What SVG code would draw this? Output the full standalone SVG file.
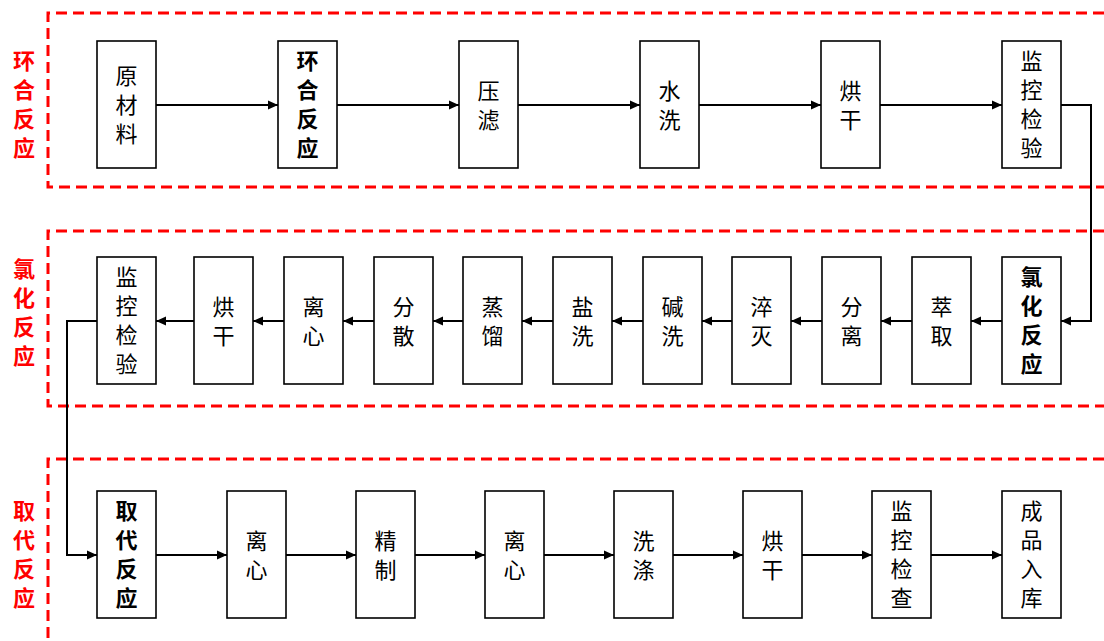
<svg xmlns="http://www.w3.org/2000/svg" width="1104" height="641" viewBox="0 0 1104 641">
  <defs>
    <marker id="arrow" viewBox="0 0 10 10" refX="10" refY="5" markerWidth="10" markerHeight="10" markerUnits="userSpaceOnUse" orient="auto">
      <path d="M0,0.5 L10,5 L0,9.5 Z" fill="#000"/>
    </marker>
    <style>
      .zone { fill: none; stroke: #ff0000; stroke-width: 3; stroke-dasharray: 11 6; }
      .zlabel { font-family: "Noto Sans CJK SC", "Noto Sans", sans-serif; font-size: 22px; font-weight: bold; fill: #ff0000; text-anchor: middle; }
      .box { fill: #fff; stroke: #000; stroke-width: 1.6; }
      .txt { font-family: "Noto Sans CJK SC", "Noto Sans", sans-serif; font-size: 22px; fill: #000; text-anchor: middle; }
      .bold { font-weight: bold; }
      .link { fill: none; stroke: #000; stroke-width: 2; marker-end: url(#arrow); }
    </style>
  </defs>
  <rect width="1104" height="641" fill="#fff"/>

  <!-- stage frames -->
  <g id="zones">
    <path class="zone" d="M1104,13 H48 V187 H1104"/>
    <path class="zone" d="M1104,231 H48 V406 H1104"/>
    <path class="zone" d="M1104,459 H48 V641"/>
  </g>

  <!-- stage titles -->
  <g id="stage-labels">
    <text class="zlabel" x="24"><tspan x="24" y="69">环</tspan><tspan x="24" y="98">合</tspan><tspan x="24" y="127">反</tspan><tspan x="24" y="156">应</tspan></text>
    <text class="zlabel" x="24"><tspan x="24" y="277">氯</tspan><tspan x="24" y="306">化</tspan><tspan x="24" y="335">反</tspan><tspan x="24" y="364">应</tspan></text>
    <text class="zlabel" x="24"><tspan x="24" y="519">取</tspan><tspan x="24" y="548">代</tspan><tspan x="24" y="577">反</tspan><tspan x="24" y="606">应</tspan></text>
  </g>

  <!-- connectors -->
  <g id="connectors">
    <!-- ring-closure stage -->
    <path class="link" d="M156,105 H278"/>
    <path class="link" d="M337,105 H459"/>
    <path class="link" d="M518,105 H640"/>
    <path class="link" d="M699,105 H821"/>
    <path class="link" d="M880,105 H1002"/>
    <path class="link" d="M1061,105 H1091 V321 H1061"/>
    <!-- chlorination stage (right to left) -->
    <path class="link" d="M1002,321 H971"/>
    <path class="link" d="M912,321 H881"/>
    <path class="link" d="M822,321 H791"/>
    <path class="link" d="M732,321 H702"/>
    <path class="link" d="M643,321 H612"/>
    <path class="link" d="M553,321 H522"/>
    <path class="link" d="M463,321 H433"/>
    <path class="link" d="M374,321 H343"/>
    <path class="link" d="M284,321 H253"/>
    <path class="link" d="M194,321 H156"/>
    <path class="link" d="M97,321 H67 V555 H97"/>
    <!-- substitution stage -->
    <path class="link" d="M156,555 H227"/>
    <path class="link" d="M286,555 H356"/>
    <path class="link" d="M415,555 H485"/>
    <path class="link" d="M544,555 H614"/>
    <path class="link" d="M673,555 H743"/>
    <path class="link" d="M802,555 H872"/>
    <path class="link" d="M931,555 H1002"/>
  </g>

  <!-- ring-closure stage nodes -->
  <g id="n-raw"><rect class="box" x="97" y="41" width="59" height="127"/><text class="txt"><tspan x="126.5" y="84">原</tspan><tspan x="126.5" y="113">材</tspan><tspan x="126.5" y="142">料</tspan></text></g>
  <g id="n-ring"><rect class="box" x="278" y="41" width="59" height="127"/><text class="txt bold"><tspan x="307.5" y="69">环</tspan><tspan x="307.5" y="98">合</tspan><tspan x="307.5" y="127">反</tspan><tspan x="307.5" y="156">应</tspan></text></g>
  <g id="n-press"><rect class="box" x="459" y="41" width="59" height="127"/><text class="txt"><tspan x="488.5" y="99">压</tspan><tspan x="488.5" y="128">滤</tspan></text></g>
  <g id="n-wash1"><rect class="box" x="640" y="41" width="59" height="127"/><text class="txt"><tspan x="669.5" y="99">水</tspan><tspan x="669.5" y="128">洗</tspan></text></g>
  <g id="n-dry1"><rect class="box" x="821" y="41" width="59" height="127"/><text class="txt"><tspan x="850.5" y="99">烘</tspan><tspan x="850.5" y="128">干</tspan></text></g>
  <g id="n-qc1"><rect class="box" x="1002" y="41" width="59" height="127"/><text class="txt"><tspan x="1031.5" y="69">监</tspan><tspan x="1031.5" y="98">控</tspan><tspan x="1031.5" y="127">检</tspan><tspan x="1031.5" y="156">验</tspan></text></g>

  <!-- chlorination stage nodes -->
  <g id="n-chlor"><rect class="box" x="1002" y="257" width="59" height="127"/><text class="txt bold"><tspan x="1031.5" y="285">氯</tspan><tspan x="1031.5" y="314">化</tspan><tspan x="1031.5" y="343">反</tspan><tspan x="1031.5" y="372">应</tspan></text></g>
  <g id="n-extract"><rect class="box" x="912" y="257" width="59" height="127"/><text class="txt"><tspan x="941.5" y="315">萃</tspan><tspan x="941.5" y="344">取</tspan></text></g>
  <g id="n-sep"><rect class="box" x="822" y="257" width="59" height="127"/><text class="txt"><tspan x="851.5" y="315">分</tspan><tspan x="851.5" y="344">离</tspan></text></g>
  <g id="n-quench"><rect class="box" x="732" y="257" width="59" height="127"/><text class="txt"><tspan x="761.5" y="315">淬</tspan><tspan x="761.5" y="344">灭</tspan></text></g>
  <g id="n-alkali"><rect class="box" x="643" y="257" width="59" height="127"/><text class="txt"><tspan x="672.5" y="315">碱</tspan><tspan x="672.5" y="344">洗</tspan></text></g>
  <g id="n-brine"><rect class="box" x="553" y="257" width="59" height="127"/><text class="txt"><tspan x="582.5" y="315">盐</tspan><tspan x="582.5" y="344">洗</tspan></text></g>
  <g id="n-distil"><rect class="box" x="463" y="257" width="59" height="127"/><text class="txt"><tspan x="492.5" y="315">蒸</tspan><tspan x="492.5" y="344">馏</tspan></text></g>
  <g id="n-disperse"><rect class="box" x="374" y="257" width="59" height="127"/><text class="txt"><tspan x="403.5" y="315">分</tspan><tspan x="403.5" y="344">散</tspan></text></g>
  <g id="n-cent1"><rect class="box" x="284" y="257" width="59" height="127"/><text class="txt"><tspan x="313.5" y="315">离</tspan><tspan x="313.5" y="344">心</tspan></text></g>
  <g id="n-dry2"><rect class="box" x="194" y="257" width="59" height="127"/><text class="txt"><tspan x="223.5" y="315">烘</tspan><tspan x="223.5" y="344">干</tspan></text></g>
  <g id="n-qc2"><rect class="box" x="97" y="257" width="59" height="127"/><text class="txt"><tspan x="126.5" y="285">监</tspan><tspan x="126.5" y="314">控</tspan><tspan x="126.5" y="343">检</tspan><tspan x="126.5" y="372">验</tspan></text></g>

  <!-- substitution stage nodes -->
  <g id="n-subst"><rect class="box" x="97" y="491" width="59" height="127"/><text class="txt bold"><tspan x="126.5" y="519">取</tspan><tspan x="126.5" y="548">代</tspan><tspan x="126.5" y="577">反</tspan><tspan x="126.5" y="606">应</tspan></text></g>
  <g id="n-cent2"><rect class="box" x="227" y="491" width="59" height="127"/><text class="txt"><tspan x="256.5" y="549">离</tspan><tspan x="256.5" y="578">心</tspan></text></g>
  <g id="n-refine"><rect class="box" x="356" y="491" width="59" height="127"/><text class="txt"><tspan x="385.5" y="549">精</tspan><tspan x="385.5" y="578">制</tspan></text></g>
  <g id="n-cent3"><rect class="box" x="485" y="491" width="59" height="127"/><text class="txt"><tspan x="514.5" y="549">离</tspan><tspan x="514.5" y="578">心</tspan></text></g>
  <g id="n-wash2"><rect class="box" x="614" y="491" width="59" height="127"/><text class="txt"><tspan x="643.5" y="549">洗</tspan><tspan x="643.5" y="578">涤</tspan></text></g>
  <g id="n-dry3"><rect class="box" x="743" y="491" width="59" height="127"/><text class="txt"><tspan x="772.5" y="549">烘</tspan><tspan x="772.5" y="578">干</tspan></text></g>
  <g id="n-qc3"><rect class="box" x="872" y="491" width="59" height="127"/><text class="txt"><tspan x="901.5" y="519">监</tspan><tspan x="901.5" y="548">控</tspan><tspan x="901.5" y="577">检</tspan><tspan x="901.5" y="606">查</tspan></text></g>
  <g id="n-store"><rect class="box" x="1002" y="491" width="59" height="127"/><text class="txt"><tspan x="1031.5" y="519">成</tspan><tspan x="1031.5" y="548">品</tspan><tspan x="1031.5" y="577">入</tspan><tspan x="1031.5" y="606">库</tspan></text></g>
</svg>
